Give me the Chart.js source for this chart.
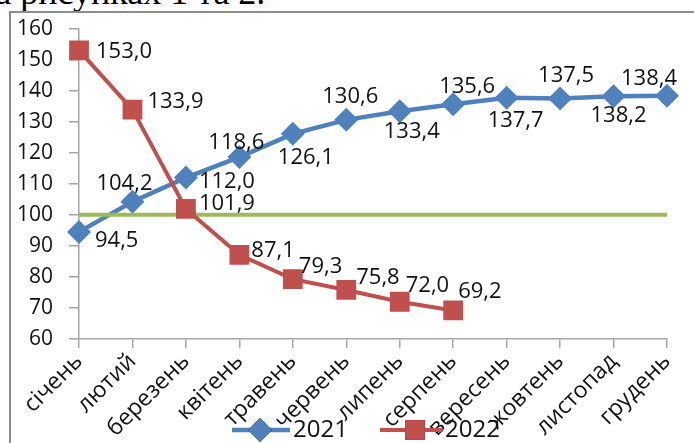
<!DOCTYPE html>
<html lang="uk">
<head>
<meta charset="utf-8">
<title>Індекси 2021–2022</title>
<script src="https://cdn.jsdelivr.net/npm/chart.js@4.4.1/dist/chart.umd.min.js"></script>
<style>
  html, body { margin: 0; padding: 0; background: #fff; }
  body { width: 694px; height: 443px; position: relative; overflow: hidden; }
  .caption {
    position: absolute; left: -24px; top: -26px;
    font: 36px/1 "Liberation Serif", "DejaVu Serif", serif;
    color: #000; white-space: nowrap;
  }
  .frame {
    position: absolute; left: 9px; top: 11px; width: 800px; height: 600px;
    border: 2px solid #8c8c8c; box-sizing: border-box;
  }
  #wrap { position: absolute; left: 0; top: 0; width: 694px; height: 443px; }
</style>
</head>
<body>
<div class="caption">на рисунках 1 та 2.</div>
<div class="frame"></div>
<div id="wrap"><canvas id="chart" width="694" height="443"></canvas></div>
<script>
// Months on the category axis
const months = ['січень', 'лютий', 'березень', 'квітень', 'травень', 'червень',
                'липень', 'серпень', 'вересень', 'жовтень', 'листопад', 'грудень'];

// Index values per month
const values2021 = [94.5, 104.2, 112.0, 118.6, 126.1, 130.6, 133.4, 135.6, 137.7, 137.5, 138.2, 138.4];
const values2022 = [153.0, 133.9, 101.9, 87.1, 79.3, 75.8, 72.0, 69.2, null, null, null, null];

// Reference level
const baseLevel = 100;
const baseLine = months.map(() => baseLevel);

// Value axis ticks
const valueTicks = [60, 70, 80, 90, 100, 110, 120, 130, 140, 150, 160];

const FONT = '"Open Sans", "Liberation Sans", sans-serif';
const BLUE = '#4F81BD';
const RED = '#C0504D';
const GREEN = '#9BBB59';
const AXIS = '#A6A6A6';
const INK = '#111';

// Where each value label sits relative to its point (dx, dy, alignment)
const spots2021 = [
  [16, 9, 'left'], [-8, -18, 'center'], [13, 4, 'left'], [-3, -14, 'center'],
  [13, 24, 'center'], [4, -23, 'center'], [12, 21, 'center'], [14, -18, 'center'],
  [9, 23, 'center'], [6, -23, 'center'], [5, 19, 'center'], [-18, -17, 'center']
];
const spots2022 = [
  [17, 1, 'left'], [15, -8, 'left'], [13, -5, 'left'], [12, -4, 'left'],
  [6, -12, 'left'], [10, -12, 'left'], [6, -16, 'left'], [5, -19, 'left']
];

const fmt = v => v.toFixed(1).replace('.', ',');

// Draws the numeric value next to each point
const valueLabels = {
  id: 'valueLabels',
  afterDatasetsDraw(chart) {
    const ctx = chart.ctx;
    ctx.save();
    ctx.font = '22px ' + FONT;
    ctx.fillStyle = INK;
    ctx.textBaseline = 'middle';
    chart.data.datasets.forEach((ds, di) => {
      const spots = ds.spots;
      if (!spots) return;
      const meta = chart.getDatasetMeta(di);
      meta.data.forEach((pt, i) => {
        const v = ds.data[i];
        if (v == null || !spots[i]) return;
        const [dx, dy, align] = spots[i];
        ctx.textAlign = align;
        ctx.fillText(fmt(v), pt.x + dx, pt.y + dy);
      });
    });
    ctx.restore();
  }
};

// Series key under the axis
const seriesKey = {
  id: 'seriesKey',
  afterDraw(chart) {
    const ctx = chart.ctx;
    const y = 430;
    const items = [
      { ds: chart.data.datasets[2], x0: 232, x1: 290, mark: 260, tx: 293 },
      { ds: chart.data.datasets[0], x0: 380, x1: 443, mark: 415, tx: 445 }
    ];
    ctx.save();
    items.forEach(it => {
      ctx.strokeStyle = it.ds.borderColor;
      ctx.lineWidth = it.ds.borderWidth;
      ctx.beginPath();
      ctx.moveTo(it.x0, y);
      ctx.lineTo(it.x1, y);
      ctx.stroke();
      Chart.helpers.drawPoint(ctx, {
        pointStyle: it.ds.pointStyle,
        radius: it.ds.pointRadius,
        borderWidth: 0,
        rotation: 0
      }, it.mark, y);
      ctx.fillStyle = it.ds.backgroundColor;
      ctx.fill();
      ctx.fillStyle = INK;
      ctx.font = '24px ' + FONT;
      ctx.textAlign = 'left';
      ctx.textBaseline = 'middle';
      ctx.fillText(it.ds.label, it.tx, y);
    });
    ctx.restore();
  }
};

new Chart(document.getElementById('chart'), {
  type: 'line',
  data: {
    labels: months,
    datasets: [
      {
        label: '2022',
        data: values2022,
        borderColor: RED,
        backgroundColor: RED,
        borderWidth: 4,
        pointStyle: 'rect',
        pointRadius: 14,
        pointHoverRadius: 14,
        pointBorderWidth: 0,
        tension: 0,
        spanGaps: false,
        spots: spots2022
      },
      {
        label: 'база',
        data: baseLine,
        borderColor: GREEN,
        backgroundColor: GREEN,
        borderWidth: 4,
        pointRadius: 0,
        tension: 0
      },
      {
        label: '2021',
        data: values2021,
        borderColor: BLUE,
        backgroundColor: BLUE,
        borderWidth: 4.5,
        pointStyle: 'rectRot',
        pointRadius: 12,
        pointHoverRadius: 12,
        pointBorderWidth: 0,
        tension: 0,
        spots: spots2021
      }
    ]
  },
  options: {
    responsive: false,
    animation: false,
    events: [],
    layout: { padding: { top: 27, right: 27, left: 0, bottom: 0 } },
    plugins: {
      legend: { display: false },
      tooltip: { enabled: false },
      title: { display: false }
    },
    scales: {
      x: {
        type: 'category',
        offset: false,
        grid: {
          display: true, drawOnChartArea: false, drawTicks: true,
          tickLength: 9, color: AXIS, lineWidth: 1.5
        },
        border: { display: true, color: AXIS, width: 1.5 },
        ticks: {
          autoSkip: false, maxRotation: 45, minRotation: 45,
          padding: 0, color: INK, font: { family: FONT, size: 23 }
        },
        afterFit(scale) { scale.height = 104; }
      },
      y: {
        min: valueTicks[0],
        max: valueTicks[valueTicks.length - 1],
        afterBuildTicks(scale) { scale.ticks = valueTicks.map(v => ({ value: v })); },
        grid: {
          display: true, drawOnChartArea: false, drawTicks: true,
          tickLength: 10, color: AXIS, lineWidth: 1.5
        },
        border: { display: true, color: AXIS, width: 1.5 },
        ticks: { padding: 16, color: INK, font: { family: FONT, size: 21 } },
        afterFit(scale) { scale.width = 79; }
      }
    }
  },
  plugins: [valueLabels, seriesKey]
});
</script>
</body>
</html>
